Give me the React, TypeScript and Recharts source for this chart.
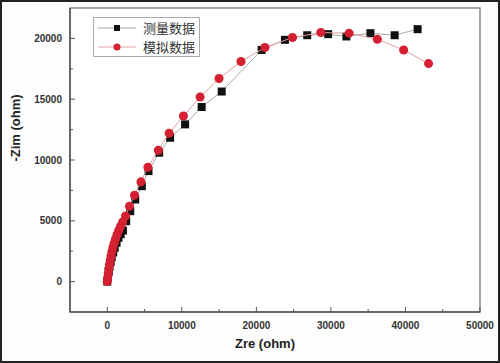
import { ScatterChart, Scatter, XAxis, YAxis, ZAxis, ReferenceArea } from "recharts";

// 测量数据 (measured) — black squares
const measuredZre = [
  0, 100, 200, 300, 450, 600, 800, 1000, 1250, 1500, 1800, 2100, 2540, 3080, 3750,
  4640, 5530, 6960, 8430, 10440, 12660, 15350, 20710, 23830, 26820, 29630, 32080,
  35300, 38550, 41630,
];
const measuredZim = [
  0, 400, 800, 1200, 1600, 2000, 2400, 2800, 3200, 3600, 3900, 4200, 4970, 5790, 6750,
  7850, 9090, 10600, 11830, 12930, 14360, 15630, 19050, 19880, 20260, 20350, 20160,
  20430, 20260, 20760,
];

// 模拟数据 (simulated) — red circles
const simulatedZre = [
  0, 60, 130, 200, 290, 390, 500, 620, 760, 920, 1100, 1300, 1530, 1780, 2060, 2450,
  2980, 3650, 4520, 5450, 6850, 8300, 10220, 12450, 14990, 17940, 21150, 24850, 28650,
  32440, 36230, 39760, 43100,
];
const simulatedZim = [
  0, 350, 700, 1050, 1400, 1750, 2100, 2450, 2800, 3150, 3500, 3850, 4200, 4550, 4900,
  5400, 6200, 7100, 8200, 9400, 10800, 12200, 13620, 15180, 16700, 18100, 19250, 20070,
  20480, 20430, 19930, 19050, 17930,
];

const xTicks = [0, 5000, 10000, 15000, 20000, 25000, 30000, 35000, 40000, 45000, 50000];
const yTicks = [0, 2500, 5000, 7500, 10000, 12500, 15000, 17500, 20000];

const measured = measuredZre.map((x, i) => ({ x, y: measuredZim[i] }));
const simulated = simulatedZre.map((x, i) => ({ x, y: simulatedZim[i] }));

const tickFont = {
  fontFamily: "'Liberation Sans', Arial, sans-serif",
  fontSize: 10,
  fontWeight: 700,
  fill: "#333",
};

const YTick = ({ x, y, payload }: any) => {
  const major = payload.value % 5000 === 0;
  return (
    <g>
      <line x1={x} x2={x + (major ? 5 : 3)} y1={y} y2={y} stroke="#555" />
      {major && (
        <text x={x - 8} y={y} dy="0.35em" textAnchor="end" {...tickFont}>
          {payload.value}
        </text>
      )}
    </g>
  );
};

const XTick = ({ x, y, payload }: any) => {
  const major = payload.value % 10000 === 0;
  return (
    <g>
      <line x1={x} x2={x} y1={y} y2={y - (major ? 5 : 3)} stroke="#555" />
      {major && (
        <text x={x} y={y + 17} textAnchor="middle" {...tickFont}>
          {payload.value}
        </text>
      )}
    </g>
  );
};

const legendItems = [
  { name: "测量数据", color: "#111", line: "#aaa", square: true },
  { name: "模拟数据", color: "#d42030", line: "#e0a0a0", square: false },
];

const LegendBox = () => (
  <div
    style={{
      position: "absolute",
      left: 93,
      top: 17,
      border: "1px solid #aaa",
      background: "#fff",
      padding: "0 4px 0 4px",
      fontFamily: "'Noto Sans CJK SC', sans-serif",
      fontSize: 13,
      lineHeight: "19px",
      color: "#333",
    }}
  >
    {legendItems.map((e) => (
      <div key={e.name} style={{ display: "flex", alignItems: "center", height: 19 }}>
        <svg width={38} height={12} style={{ marginRight: 7 }}>
          <line x1={0} x2={38} y1={6} y2={6} stroke={e.line} />
          {e.square ? (
            <rect x={16} y={3} width={6} height={6} fill={e.color} />
          ) : (
            <circle cx={19} cy={6} r={3.5} fill={e.color} />
          )}
        </svg>
        <span>{e.name}</span>
      </div>
    ))}
  </div>
);

export default function App() {
  return (
    <div style={{ position: "absolute", left: 0, top: 0, width: 500, height: 363, background: "#fdfdfd" }}>
      <ScatterChart width={500} height={363} margin={{ top: 8, right: 20, bottom: 0, left: 0 }}>
        <XAxis
          type="number"
          dataKey="x"
          domain={[-5000, 50000]}
          ticks={xTicks}
          interval={0}
          tickSize={0}
          tickMargin={0}
          tick={<XTick />}
          height={51}
          axisLine={{ stroke: "#555", strokeWidth: 1.5 }}
          allowDataOverflow
        />
        <YAxis
          type="number"
          dataKey="y"
          domain={[-2500, 22500]}
          ticks={yTicks}
          interval={0}
          tickSize={0}
          tickMargin={0}
          tick={<YTick />}
          width={70}
          axisLine={{ stroke: "#555", strokeWidth: 1.5 }}
          allowDataOverflow
        />
        <ZAxis range={[30, 30]} />
        <ReferenceArea
          x1={-5000}
          x2={50000}
          y1={-2500}
          y2={22500}
          fill="#fff"
          fillOpacity={1}
          stroke="#888"
          strokeWidth={1.5}
          ifOverflow="visible"
        />
        <Scatter
          name="测量数据"
          data={measured}
          fill="#111"
          shape="square"
          line={{ stroke: "#aaa", strokeWidth: 1 }}
          lineType="joint"
          isAnimationActive={false}
        />
        <Scatter
          name="模拟数据"
          data={simulated}
          fill="#d42030"
          shape="circle"
          line={{ stroke: "#e0a0a0", strokeWidth: 1 }}
          lineType="joint"
          isAnimationActive={false}
        />
      </ScatterChart>
      <LegendBox />
      <div
        style={{
          position: "absolute",
          left: 0,
          width: 530,
          top: 336,
          textAlign: "center",
          fontFamily: "'Liberation Sans', Arial, sans-serif",
          fontWeight: 700,
          fontSize: 13,
          color: "#222",
        }}
      >
        Zre (ohm)
      </div>
      <div
        style={{
          position: "absolute",
          left: 15,
          top: 128,
          transform: "translate(-50%, -50%) rotate(-90deg)",
          whiteSpace: "nowrap",
          fontFamily: "'Liberation Sans', Arial, sans-serif",
          fontWeight: 700,
          fontSize: 13,
          color: "#222",
        }}
      >
        -Zim (ohm)
      </div>
      <div
        style={{
          position: "absolute",
          inset: 0,
          border: "2px solid #222",
          pointerEvents: "none",
        }}
      />
    </div>
  );
}
